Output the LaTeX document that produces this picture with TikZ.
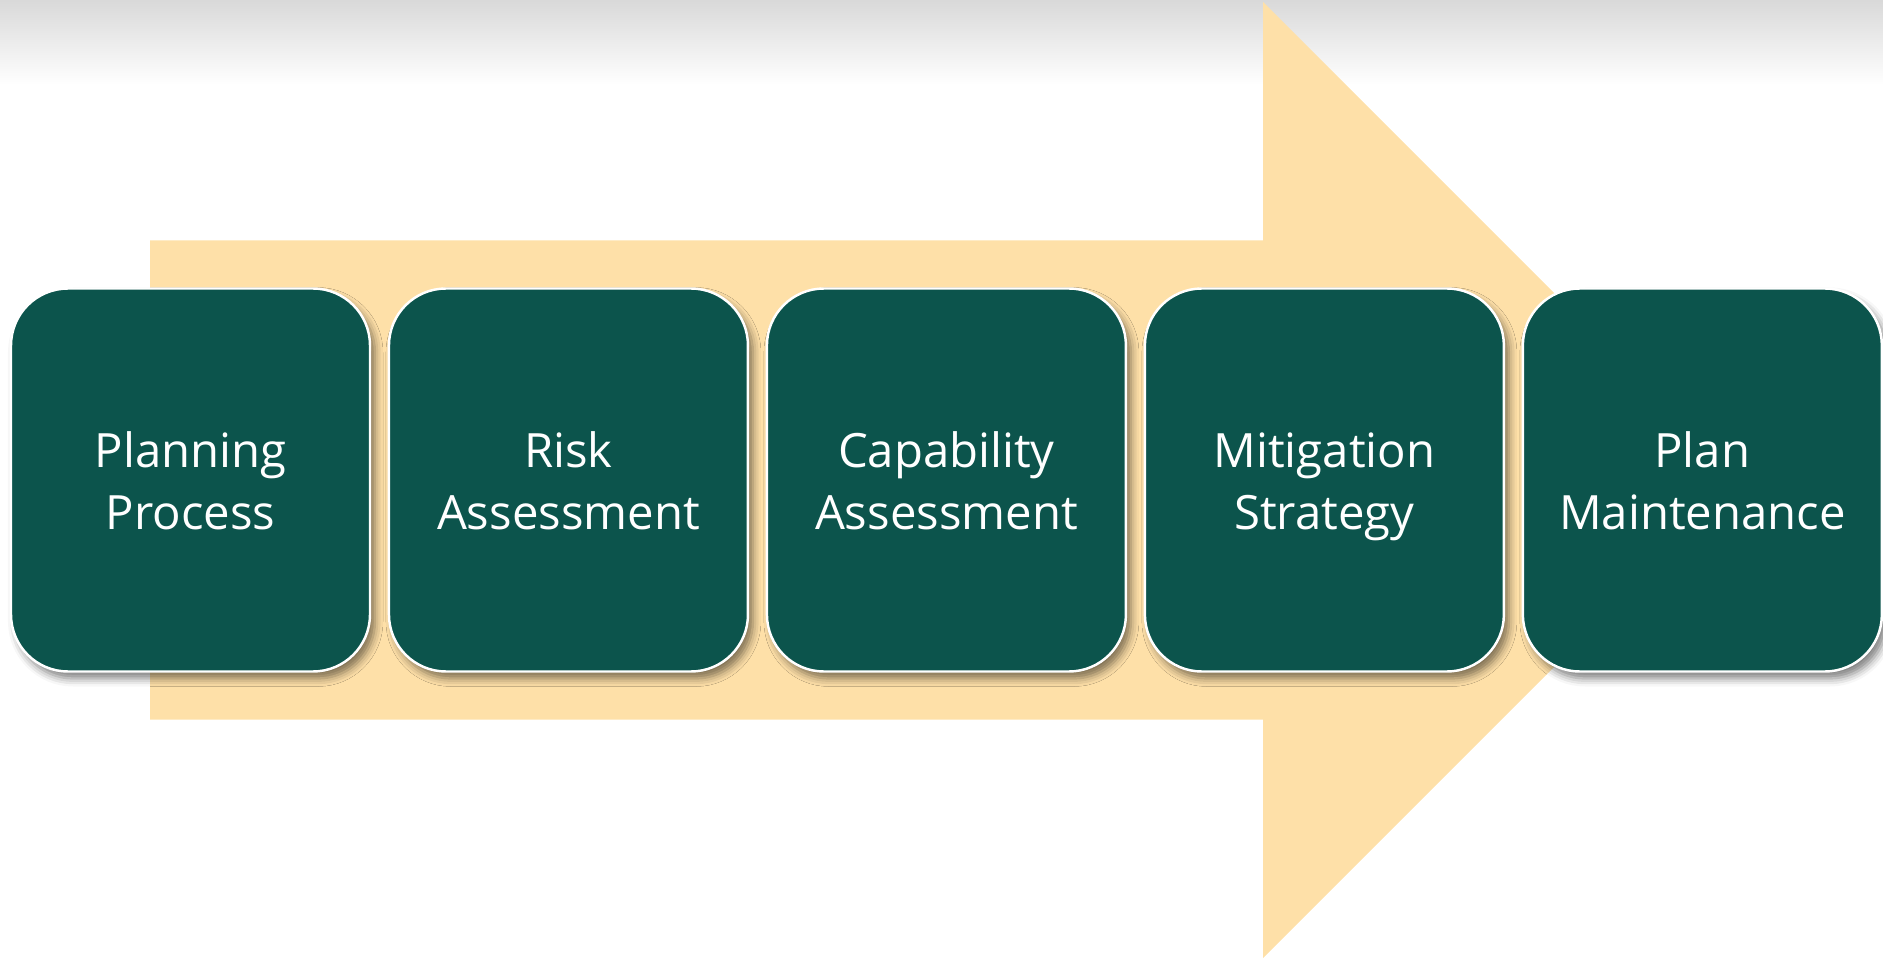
\documentclass[tikz,border=0pt]{standalone}
\usepackage{fontspec}
\setmainfont{Open Sans}
\usepackage{tikz}
\usetikzlibrary{calc,positioning,shadows.blur}
\definecolor{boxteal}{RGB}{12,84,76}
\definecolor{arrowtan}{RGB}{254,224,168}
\newcommand{\topstrut}{\rule{0pt}{1.13cm}}
\newcommand{\botstrut}{\rule[-0.15cm]{0pt}{0.15cm}}
\tikzset{
  stage/.style={rectangle, rounded corners=0.57cm, fill=boxteal, draw=white, line width=0.7pt,
    minimum width=3.59cm, minimum height=3.83cm, inner sep=0pt, align=center, text=white,
    font=\fontsize{13.45}{17.4}\selectfont,
    execute at begin node=\topstrut, execute at end node=\botstrut,
    blur shadow={shadow xshift=0.05cm, shadow yshift=-0.07cm, shadow blur radius=0.08cm, shadow opacity=50}}
}

\begin{document}
\begin{tikzpicture}
    \pgfmathsetmacro{\W}{18.83};
    \pgfmathsetmacro{\H}{9.58};
    \pgfmathsetmacro{\cy}{4.78};
    \pgfmathsetmacro{\bodyl}{1.50};
    \pgfmathsetmacro{\headx}{12.63};
    \pgfmathsetmacro{\bodyh}{2.395};
    \pgfmathsetmacro{\tipx}{17.41};
    \pgfmathsetmacro{\gap}{0.165};
    \useasboundingbox (0,0) rectangle (\W,\H);
    \shade[top color=black!15, bottom color=white] (0,\H-0.85) rectangle (\W,\H);

    \coordinate (BT) at (\bodyl,\cy+\bodyh);
    \coordinate (BB) at (\bodyl,\cy-\bodyh);
    \fill[arrowtan] (BT) -- (\headx,\cy+\bodyh) -- (\headx,\H-0.02) -- (\tipx,\cy)
        -- (\headx,0) -- (\headx,\cy-\bodyh) -- (BB) -- cycle;

    \node[stage] (plan) at (1.905,\cy) {Planning\\Process};
    \node[stage, right=\gap cm of plan] (risk) {Risk\\Assessment};
    \node[stage, right=\gap cm of risk] (capab) {Capability\\Assessment};
    \node[stage, right=\gap cm of capab] (mitig) {Mitigation\\Strategy};
    \node[stage, right=\gap cm of mitig] (maint) {Plan\\Maintenance};
\end{tikzpicture}
\end{document}
